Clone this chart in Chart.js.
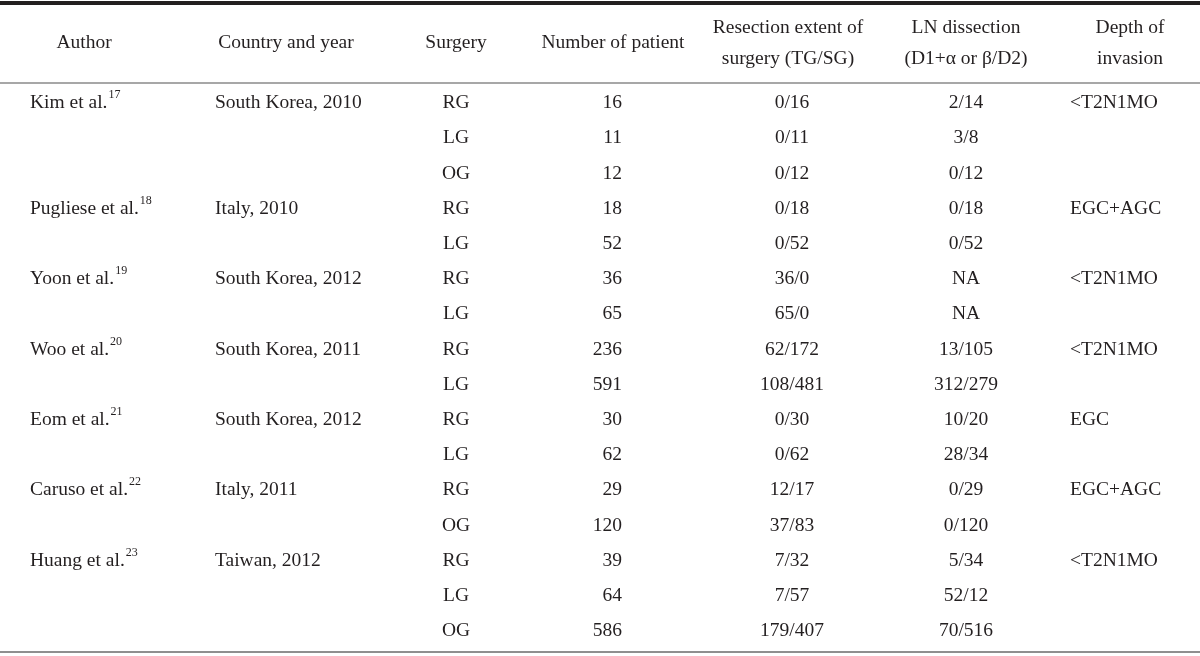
<!DOCTYPE html>
<html>
<head>
<meta charset="utf-8">
<script src="https://cdn.jsdelivr.net/npm/chart.js@4.4.0/dist/chart.umd.min.js"></script>
<style>
  html, body { margin: 0; padding: 0; background: #fff; }
</style>
</head>
<body>
<canvas id="tableChart" width="1200" height="656"></canvas>
<script>
// table content
const headers = [
  ['Author'],
  ['Country and year'],
  ['Surgery'],
  ['Number of patient'],
  ['Resection extent of', 'surgery (TG/SG)'],
  ['LN dissection', '(D1+\u03b1 or \u03b2/D2)'],
  ['Depth of', 'invasion']
];
const authors = ['Kim et al.', 'Pugliese et al.', 'Yoon et al.', 'Woo et al.', 'Eom et al.', 'Caruso et al.', 'Huang et al.'];
const refNums = ['17', '18', '19', '20', '21', '22', '23'];
const countries = ['South Korea, 2010', 'Italy, 2010', 'South Korea, 2012', 'South Korea, 2011', 'South Korea, 2012', 'Italy, 2011', 'Taiwan, 2012'];
const depths = ['<T2N1MO', 'EGC+AGC', '<T2N1MO', '<T2N1MO', 'EGC', 'EGC+AGC', '<T2N1MO'];
const armsPerStudy = [3, 2, 2, 2, 2, 2, 3];
const surgery = ['RG', 'LG', 'OG', 'RG', 'LG', 'RG', 'LG', 'RG', 'LG', 'RG', 'LG', 'RG', 'OG', 'RG', 'LG', 'OG'];
const patients = [16, 11, 12, 18, 52, 36, 65, 236, 591, 30, 62, 29, 120, 39, 64, 586];
const resection = ['0/16', '0/11', '0/12', '0/18', '0/52', '36/0', '65/0', '62/172', '108/481', '0/30', '0/62', '12/17', '37/83', '7/32', '7/57', '179/407'];
const lnDissection = ['2/14', '3/8', '0/12', '0/18', '0/52', 'NA', 'NA', '13/105', '312/279', '10/20', '28/34', '0/29', '0/120', '5/34', '52/12', '70/516'];

// layout
const colX = [30, 215, 456, 622, 792, 966, 1070];
const colAlign = ['left', 'left', 'center', 'right', 'center', 'center', 'left'];
const headX = [84, 286, 456, 613, 788, 966, 1130];
const firstRowPx = 103, rowStep = 35.2;
const toRow = px => (px - firstRowPx) / rowStep;
const headY1 = toRow(43), headY2a = toRow(28), headY2b = toRow(59);
const ruleTop = toRow(3), ruleHead = toRow(83), ruleBottom = toRow(652);
const INK = '#231f20';
const FONT = '"Liberation Serif", "DejaVu Serif", serif';

// first row of each study
const studyRows = [];
armsPerStudy.reduce((acc, n) => { studyRows.push(acc); return acc + n; }, 0);
const allRows = surgery.map((_, i) => i);

function cellSet(col, rows, texts) {
  return {
    type: 'scatter',
    data: rows.map(r => ({ x: colX[col], y: r })),
    texts: texts.map(String),
    col: col,
    pointRadius: 0,
    pointHoverRadius: 0
  };
}
function headerSet() {
  const pts = [], texts = [];
  headers.forEach((h, c) => {
    if (h.length === 1) { pts.push({ x: headX[c], y: headY1 }); texts.push(h[0]); }
    else {
      pts.push({ x: headX[c], y: headY2a }); texts.push(h[0]);
      pts.push({ x: headX[c], y: headY2b }); texts.push(h[1]);
    }
  });
  return { type: 'scatter', data: pts, texts: texts, col: 'head', pointRadius: 0, pointHoverRadius: 0 };
}
function rule(y, width, color) {
  return {
    type: 'line',
    data: [{ x: 0, y: y }, { x: 1200, y: y }],
    borderColor: color,
    borderWidth: width,
    pointRadius: 0,
    fill: false
  };
}

const textPlugin = {
  id: 'cellText',
  afterDatasetsDraw(chart) {
    const ctx = chart.ctx;
    ctx.save();
    ctx.fillStyle = INK;
    ctx.textBaseline = 'middle';
    chart.data.datasets.forEach((ds, di) => {
      if (!ds.texts) return;
      const meta = chart.getDatasetMeta(di);
      meta.data.forEach((pt, i) => {
        const txt = ds.texts[i];
        ctx.font = '19.5px ' + FONT;
        ctx.textAlign = ds.col === 'head' ? 'center' : colAlign[ds.col];
        ctx.fillText(txt, pt.x, pt.y);
        if (ds.col === 0) {
          const w = ctx.measureText(txt).width;
          ctx.font = '12px ' + FONT;
          ctx.textAlign = 'left';
          ctx.fillText(refNums[i], pt.x + w + 1, pt.y - 8);
        }
      });
    });
    ctx.restore();
  }
};

new Chart(document.getElementById('tableChart'), {
  data: {
    datasets: [
      rule(ruleTop, 4, '#231f20'),
      rule(ruleHead, 2, '#a7a7a7'),
      rule(ruleBottom, 2, '#8f8f8f'),
      headerSet(),
      cellSet(0, studyRows, authors),
      cellSet(1, studyRows, countries),
      cellSet(2, allRows, surgery),
      cellSet(3, allRows, patients),
      cellSet(4, allRows, resection),
      cellSet(5, allRows, lnDissection),
      cellSet(6, studyRows, depths)
    ]
  },
  options: {
    responsive: false,
    animation: false,
    events: [],
    layout: { padding: 0 },
    plugins: { legend: { display: false }, tooltip: { enabled: false } },
    scales: {
      x: { type: 'linear', display: false, min: 0, max: 1200 },
      y: { type: 'linear', display: false, reverse: true, min: toRow(0), max: toRow(656) }
    }
  },
  plugins: [textPlugin]
});
</script>
</body>
</html>
